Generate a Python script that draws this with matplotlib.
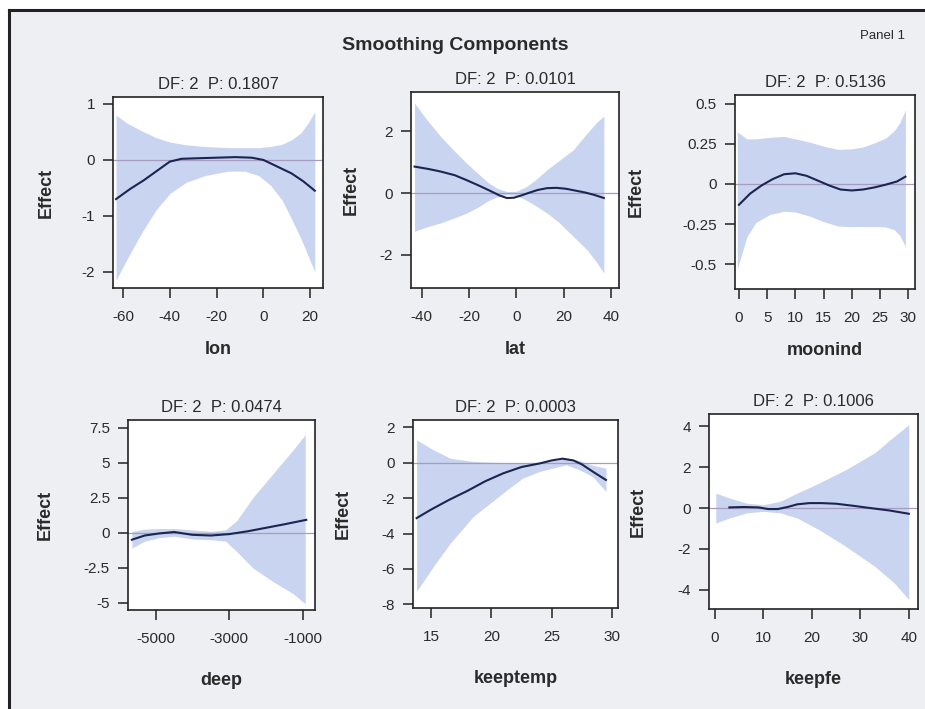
import matplotlib.pyplot as plt
from matplotlib.patches import Rectangle
from matplotlib.lines import Line2D

plt.rcParams['font.family'] = ['Liberation Sans', 'DejaVu Sans']
plt.rcParams['axes.unicode_minus'] = False

W, H = 925, 709

# lon
lon_x = [-63, -57, -51, -45, -40, -35, -28, -20, -12, -5, 0, 6, 12, 17, 22]
lon_fit = [-0.70, -0.52, -0.36, -0.18, -0.03, 0.02, 0.03, 0.04, 0.05, 0.04, 0.0, -0.12, -0.24, -0.38, -0.55]
lon_bx = [-63, -58, -52, -46, -40, -33, -25, -15, -8, -2, 3, 8, 12, 16, 19, 22]
lon_hi = [0.80, 0.65, 0.52, 0.40, 0.32, 0.27, 0.24, 0.22, 0.22, 0.22, 0.24, 0.28, 0.36, 0.48, 0.65, 0.86]
lon_lo = [-2.15, -1.75, -1.30, -0.90, -0.60, -0.40, -0.28, -0.20, -0.20, -0.28, -0.45, -0.72, -1.05, -1.40, -1.70, -2.0]

# lat
lat_x = [-43, -37, -32, -26, -21, -16, -11, -7, -4, -1, 2, 5, 9, 13, 17, 21, 25, 29, 33, 37]
lat_fit = [0.86, 0.78, 0.70, 0.58, 0.42, 0.25, 0.07, -0.08, -0.16, -0.15, -0.08, 0.0, 0.10, 0.16, 0.17, 0.14, 0.08, 0.02, -0.06, -0.16]
lat_bx = [-43, -38, -32, -26, -21, -16, -12, -8, -4, 0, 4, 8, 13, 18, 24, 30, 34, 37]
lat_hi = [2.92, 2.40, 1.84, 1.35, 0.97, 0.62, 0.35, 0.15, 0.05, 0.06, 0.2, 0.42, 0.76, 1.05, 1.40, 1.95, 2.30, 2.50]
lat_lo = [-1.24, -1.10, -0.97, -0.80, -0.65, -0.45, -0.25, -0.12, -0.05, -0.08, -0.22, -0.40, -0.65, -0.95, -1.40, -1.85, -2.25, -2.60]

# moonind
moon_x = [0, 2, 4, 6, 8, 10, 12, 14, 16, 18, 20, 22, 24, 26, 28, 29.5]
moon_fit = [-0.13, -0.06, -0.01, 0.03, 0.06, 0.066, 0.05, 0.02, -0.01, -0.035, -0.041, -0.035, -0.022, -0.005, 0.015, 0.045]
moon_bx = [-0.3, 1.4, 3, 5.5, 8, 10, 12.5, 15, 17.5, 20, 22, 24, 26, 27.5, 28.5, 29.5]
moon_hi = [0.325, 0.28, 0.28, 0.29, 0.295, 0.28, 0.26, 0.235, 0.215, 0.218, 0.23, 0.255, 0.285, 0.33, 0.38, 0.46]
moon_lo = [-0.53, -0.33, -0.24, -0.19, -0.17, -0.175, -0.20, -0.235, -0.262, -0.266, -0.265, -0.265, -0.268, -0.285, -0.32, -0.39]

# deep
deep_x = [-5650, -5300, -4900, -4500, -4000, -3500, -3000, -2500, -2000, -1500, -900]
deep_fit = [-0.5, -0.2, -0.05, 0.05, -0.15, -0.2, -0.1, 0.1, 0.35, 0.6, 0.92]
deep_bx = [-5650, -5300, -4900, -4500, -4000, -3500, -3100, -2800, -2345, -1800, -1255, -930]
deep_hi = [0.1, 0.25, 0.3, 0.3, 0.2, 0.1, 0.2, 0.85, 2.54, 4.24, 5.93, 7.0]
deep_lo = [-1.1, -0.6, -0.35, -0.25, -0.45, -0.5, -0.6, -1.33, -2.54, -3.5, -4.36, -5.08]

# keeptemp
temp_x = [13.8, 15, 16.5, 18, 19.5, 21, 22.5, 24, 25, 25.9, 26.8, 27.5, 28.5, 29.5]
temp_fit = [-3.13, -2.65, -2.1, -1.6, -1.05, -0.6, -0.25, -0.05, 0.12, 0.22, 0.12, -0.1, -0.55, -0.98]
temp_bx = [13.8, 15.2, 16.6, 18.5, 19.9, 21.3, 22.6, 24, 25.4, 26.2, 27.3, 28.4, 29.5]
temp_hi = [1.28, 0.71, 0.24, 0.06, 0.02, 0.0, 0.0, 0.02, 0.12, 0.25, 0.12, -0.15, -0.32]
temp_lo = [-7.26, -5.85, -4.54, -3.04, -2.29, -1.54, -0.88, -0.5, -0.26, -0.13, -0.41, -0.79, -1.63]

# keepfe
fe_x = [3, 6, 9, 11, 13, 15, 17, 19.5, 22, 25, 28.5, 32, 36, 40]
fe_fit = [0.03, 0.05, 0.03, -0.05, -0.05, 0.05, 0.18, 0.24, 0.24, 0.21, 0.11, 0.0, -0.12, -0.28]
fe_bx = [0.2, 3, 6.5, 10, 13.5, 17, 21.5, 27, 33, 37, 40]
fe_hi = [0.73, 0.49, 0.24, 0.16, 0.33, 0.73, 1.22, 1.87, 2.7, 3.5, 4.07]
fe_lo = [-0.73, -0.49, -0.24, -0.16, -0.24, -0.49, -1.06, -1.87, -2.85, -3.66, -4.47]

names = ['lon', 'lat', 'moonind', 'deep', 'keeptemp', 'keepfe']
pvalues = ['0.1807', '0.0101', '0.5136', '0.0474', '0.0003', '0.1006']

xticks = [[-60, -40, -20, 0, 20], [-40, -20, 0, 20, 40], [0, 5, 10, 15, 20, 25, 30],
          [-5000, -3000, -1000], [15, 20, 25, 30], [0, 10, 20, 30, 40]]
yticks = [[-2, -1, 0, 1], [-2, 0, 2], [-0.5, -0.25, 0, 0.25, 0.5],
          [-5, -2.5, 0, 2.5, 5, 7.5], [-8, -6, -4, -2, 0, 2], [-4, -2, 0, 2, 4]]
ytick_labels = [['-2', '-1', '0', '1'], ['-2', '0', '2'], ['-0.5', '-0.25', '0', '0.25', '0.5'],
                ['-5', '-2.5', '0', '2.5', '5', '7.5'], ['-8', '-6', '-4', '-2', '0', '2'],
                ['-4', '-2', '0', '2', '4']]

series = [(lon_x, lon_fit, lon_bx, lon_lo, lon_hi),
          (lat_x, lat_fit, lat_bx, lat_lo, lat_hi),
          (moon_x, moon_fit, moon_bx, moon_lo, moon_hi),
          (deep_x, deep_fit, deep_bx, deep_lo, deep_hi),
          (temp_x, temp_fit, temp_bx, temp_lo, temp_hi),
          (fe_x, fe_fit, fe_bx, fe_lo, fe_hi)]

# axis limits and panel boxes in pixels (left, right, top, bottom)
xlims = [(-64.3, 25.5), (-44.5, 43.4), (-0.7, 31.2), (-5755, -663), (13.5, 30.5), (-1.2, 41.9)]
ylims = [(-2.29, 1.125), (-3.08, 3.28), (-0.654, 0.553), (-5.52, 8.05), (-8.2, 2.4), (-4.93, 4.59)]
boxes = [(113, 323, 97, 288), (411, 619, 92, 288), (735, 915, 95, 289),
         (128, 315, 420, 610), (413, 618, 420, 608), (709, 918, 414, 609)]
ylabel_off = [58, 51, 90, 74, 61, 62]

band_color = '#c9d4f0'
line_color = '#1b2550'
ref_color = '#a79cbf'
text_color = '#2a2a2a'

fig = plt.figure(figsize=(W / 100, H / 100), dpi=100)
fig.patch.set_facecolor('white')

# gray backdrop with top and left border
fig.patches.append(Rectangle((9 / W, 0), 1, 1 - 10 / H, transform=fig.transFigure,
                             facecolor='#eeeff3', edgecolor='none', zorder=-5))
fig.lines.append(Line2D([9 / W, 1], [1 - 10 / H, 1 - 10 / H], transform=fig.transFigure,
                        color='#222222', linewidth=2.2, zorder=-4))
fig.lines.append(Line2D([9 / W, 9 / W], [0, 1 - 10 / H], transform=fig.transFigure,
                        color='#222222', linewidth=2.2, zorder=-4))

for i, (x, fit, bx, lo, hi) in enumerate(series):
    l, r, t, b = boxes[i]
    ax = fig.add_axes([l / W, 1 - b / H, (r - l) / W, (b - t) / H])
    ax.set_zorder(1)
    ax.set_facecolor('white')
    ax.fill_between(bx, lo, hi, color=band_color, linewidth=0, zorder=1)
    ax.axhline(0, color=ref_color, linewidth=0.9, zorder=2)
    ax.plot(x, fit, color=line_color, linewidth=1.5, zorder=3)
    ax.set_xlim(*xlims[i])
    ax.set_ylim(*ylims[i])
    ax.set_xticks(xticks[i])
    ax.set_yticks(yticks[i])
    ax.set_yticklabels(ytick_labels[i])
    ax.tick_params(direction='out', length=7, width=1.1, colors='#222222',
                   labelcolor=text_color, labelsize=11, pad=6)
    ax.tick_params(axis='x', pad=9)
    for s in ax.spines.values():
        s.set_color('#222222')
        s.set_linewidth(1.2)
    ax.set_title(f'DF: 2  P: {pvalues[i]}', fontsize=12, color=text_color, pad=6)
    ax.set_xlabel(names[i], fontsize=13, fontweight='bold', color=text_color)
    below = 62 if i >= 3 else 53
    ax.xaxis.set_label_coords(0.5, -below / (b - t))
    ax.set_ylabel('Effect', fontsize=13, fontweight='bold', color=text_color)
    ax.yaxis.set_label_coords(-ylabel_off[i] / (r - l), 0.5)

fig.text(455 / W, 1 - 45 / H, 'Smoothing Components', fontsize=14, fontweight='bold',
         color=text_color, ha='center', va='center')
fig.text(883 / W, 1 - 36 / H, 'Panel 1', fontsize=9.5, color=text_color,
         ha='center', va='center')

fig.savefig('out.png', dpi=100)
